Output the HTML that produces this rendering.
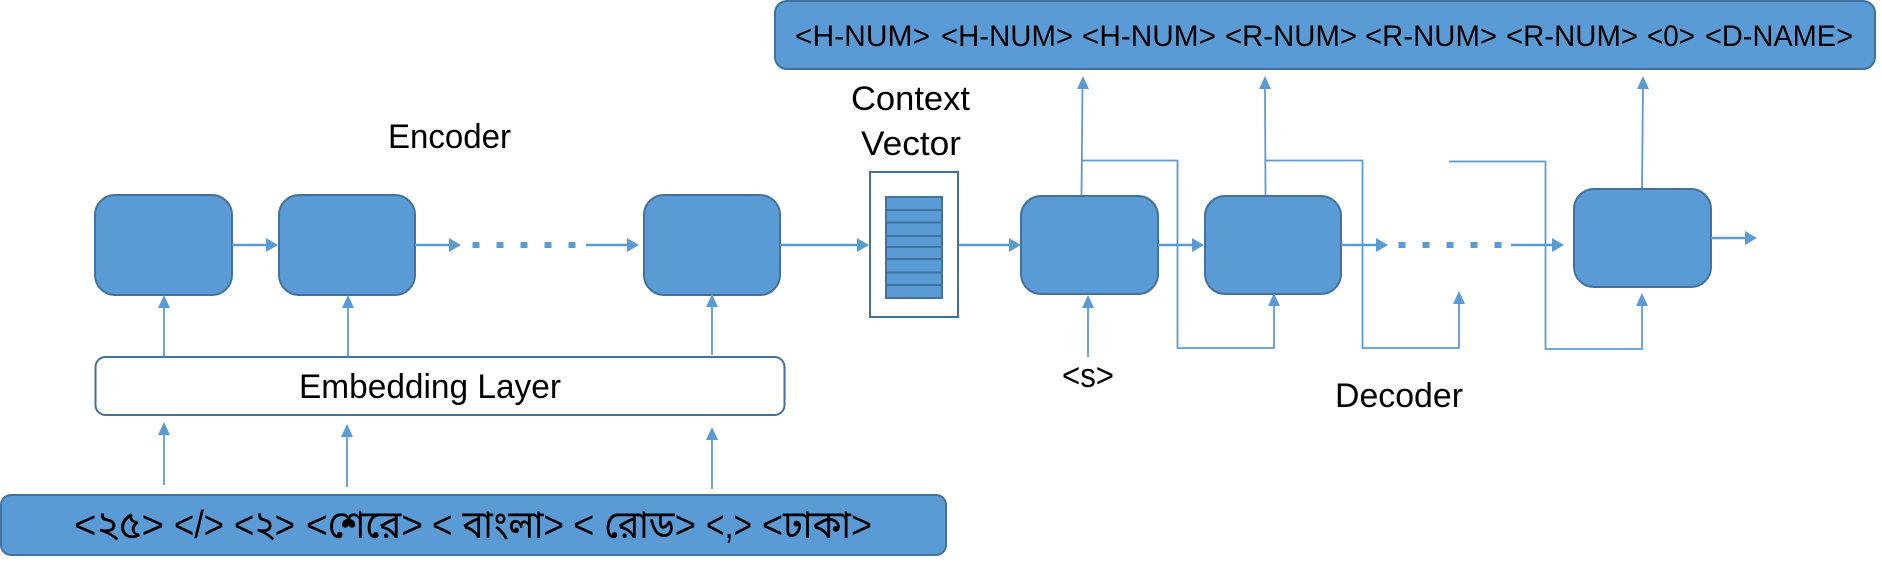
<!DOCTYPE html>
<html><head><meta charset="utf-8">
<style>
html,body{margin:0;padding:0;background:#fff;width:1882px;height:571px;overflow:hidden}
svg{display:block}
text{font-family:"Liberation Sans","Noto Sans Bengali","Lohit Bengali","FreeSans",sans-serif;fill:#000}
.b{fill:#5B9BD5;stroke:#41719C;stroke-width:2}
.l{fill:none;stroke:#5B9BD5;stroke-width:2.4}
.h{fill:#5B9BD5}
</style></head><body>
<svg width="1882" height="571" viewBox="0 0 1882 571" xmlns="http://www.w3.org/2000/svg">
<!-- top bar -->
<rect class="b" x="775" y="1" width="1100" height="68" rx="12"/>
<g font-size="30">
<text x="795" y="46" textLength="135" lengthAdjust="spacingAndGlyphs">&lt;H-NUM&gt;</text>
<text x="941" y="46" textLength="132" lengthAdjust="spacingAndGlyphs">&lt;H-NUM&gt;</text>
<text x="1082" y="46" textLength="134" lengthAdjust="spacingAndGlyphs">&lt;H-NUM&gt;</text>
<text x="1225" y="46" textLength="132" lengthAdjust="spacingAndGlyphs">&lt;R-NUM&gt;</text>
<text x="1365" y="46" textLength="132" lengthAdjust="spacingAndGlyphs">&lt;R-NUM&gt;</text>
<text x="1506" y="46" textLength="132" lengthAdjust="spacingAndGlyphs">&lt;R-NUM&gt;</text>
<text x="1647" y="46" textLength="48" lengthAdjust="spacingAndGlyphs">&lt;0&gt;</text>
<text x="1705" y="46" textLength="148" lengthAdjust="spacingAndGlyphs">&lt;D-NAME&gt;</text>
</g>
<!-- labels -->
<g font-size="34">
<text x="388" y="148" textLength="123" lengthAdjust="spacingAndGlyphs">Encoder</text>
<text x="851" y="110" textLength="119" lengthAdjust="spacingAndGlyphs">Context</text>
<text x="861" y="155" textLength="100" lengthAdjust="spacingAndGlyphs">Vector</text>
<text x="1335" y="407" textLength="128" lengthAdjust="spacingAndGlyphs">Decoder</text>
<text x="1062" y="387" textLength="52" lengthAdjust="spacingAndGlyphs">&lt;s&gt;</text>
</g>
<!-- encoder boxes -->
<rect class="b" x="95" y="195" width="137" height="100" rx="20"/>
<rect class="b" x="279" y="195" width="136" height="100" rx="20"/>
<rect class="b" x="644" y="195" width="136" height="100" rx="20"/>
<!-- embedding -->
<rect x="95.5" y="357" width="689" height="58" rx="10" fill="#fff" stroke="#41719C" stroke-width="2"/>
<text x="299" y="398" font-size="34" textLength="262" lengthAdjust="spacingAndGlyphs">Embedding Layer</text>
<!-- bottom bar -->
<rect class="b" x="1" y="495" width="945" height="60" rx="10"/>
<g font-size="39">
<text x="74" y="538" textLength="90" lengthAdjust="spacingAndGlyphs">&lt;২৫&gt;</text>
<text x="174" y="538" textLength="50" lengthAdjust="spacingAndGlyphs">&lt;/&gt;</text>
<text x="234" y="538" textLength="61" lengthAdjust="spacingAndGlyphs">&lt;২&gt;</text>
<text x="306" y="538" textLength="117" lengthAdjust="spacingAndGlyphs">&lt;শেরে&gt;</text>
<text x="432" y="538" textLength="132" lengthAdjust="spacingAndGlyphs">&lt; বাংলা&gt;</text>
<text x="573" y="538" textLength="123" lengthAdjust="spacingAndGlyphs">&lt; রোড&gt;</text>
<text x="706" y="538" textLength="46" lengthAdjust="spacingAndGlyphs">&lt;,&gt;</text>
<text x="762" y="538" textLength="110" lengthAdjust="spacingAndGlyphs">&lt;ঢাকা&gt;</text>
</g>
<!-- context -->
<rect x="870" y="172" width="88" height="145" fill="#fff" stroke="#41719C" stroke-width="2"/>
<rect class="b" x="886" y="197" width="56" height="101"/>
<g stroke="#41719C" stroke-width="2">
<path d="M887 210H941M887 222.5H941M887 236H941M887 247H941M887 259H941M887 272.5H941M887 285H941"/>
</g>
<!-- decoder boxes -->
<rect class="b" x="1021" y="196" width="137" height="98" rx="20"/>
<rect class="b" x="1205" y="196" width="136" height="98" rx="20"/>
<rect class="b" x="1574" y="189" width="137" height="98" rx="20"/>
<!-- horizontal lines -->
<g class="l">
<path d="M232 245H268M415 245H452M586 245H630M780 245H858M959 245H1010M1158 245H1194M1341 245H1378M1511 245H1555M1711 238H1747"/>
<path d="M472.5 245h7M496.5 245h7M520.5 245h7M544.5 245h7M568.5 245h7" style="stroke-width:6"/>
<path d="M1398.5 245h7M1422.5 245h7M1446.5 245h7M1470.5 245h7M1494.5 245h7" style="stroke-width:6"/>
</g>
<g class="h">
<polygon points="278,245 266,238 266,252"/>
<polygon points="461,245 449,238 449,252"/>
<polygon points="639,245 627,238 627,252"/>
<polygon points="869,245 857,238 857,252"/>
<polygon points="1021,245 1009,238 1009,252"/>
<polygon points="1204,245 1192,238 1192,252"/>
<polygon points="1388,245 1376,238 1376,252"/>
<polygon points="1564,245 1552,238 1552,252"/>
<polygon points="1757,238 1745,231 1745,245"/>
</g>
<!-- vertical lines -->
<g class="l" style="stroke-width:1.8">
<path d="M164 357V305M348 357V305M712 355V304" style="stroke-width:1.8"/>
<path d="M164 485V432M347 487V434M712 489V437" style="stroke-width:1.8"/>
<path d="M1088 357V305" style="stroke-width:1.8"/>
<path d="M1081.5 195L1082.5 86M1265.5 195L1265 86M1642 188L1643 86" style="stroke-width:1.8"/>
<path d="M1081.5 160.5H1177.5V348H1274V303" style="stroke-width:1.8"/>
<path d="M1265.5 160.5H1362.5V348H1459V301" style="stroke-width:1.8"/>
<path d="M1449 161.5H1545.5V349H1642V303" style="stroke-width:1.8"/>
</g>
<g class="h">
<polygon points="164,295 158,308 170,308"/>
<polygon points="348,295 342,308 354,308"/>
<polygon points="712,294 706,307 718,307"/>
<polygon points="164,422 158,435 170,435"/>
<polygon points="347,424 341,437 353,437"/>
<polygon points="712,427 706,440 718,440"/>
<polygon points="1088,295 1082,308 1094,308"/>
<polygon points="1083,76 1077,89 1089,89"/>
<polygon points="1265,76 1259,89 1271,89"/>
<polygon points="1643,76 1637,89 1649,89"/>
<polygon points="1274,293 1268,306 1280,306"/>
<polygon points="1459,291 1453,304 1465,304"/>
<polygon points="1642,293 1636,306 1648,306"/>
</g>
</svg>
</body></html>
